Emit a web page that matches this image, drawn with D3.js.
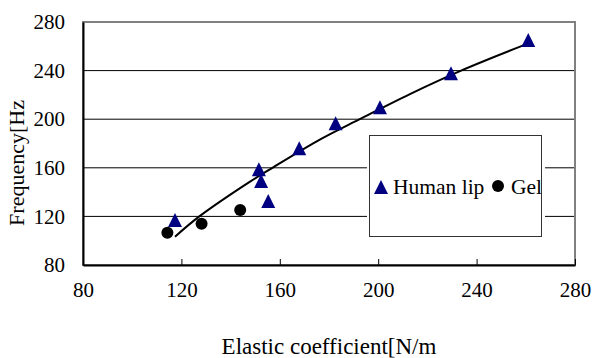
<!DOCTYPE html>
<html lang="en">
<head>
<meta charset="utf-8">
<title>Frequency vs elastic coefficient</title>
<script src="https://d3js.org/d3.v7.min.js"></script>
<style>
  body { margin: 0; background: #fff; }
  text { font-family: "Liberation Serif", "Times New Roman", serif; fill: #000; }
</style>
</head>
<body>
<script>
// data
var lipX = [117.4, 151.5, 152.4, 155.3, 167.9, 182.7, 200.7, 229.6, 261];
var lipY = [117, 158.8, 149.1, 132.7, 176, 196.6, 209.8, 237.8, 265.2];
var gelX = [114.3, 128.2, 143.9];
var gelY = [106.6, 114, 125.3];
// fitted trend line
var trendX = [117.4, 127.3, 147.9, 157, 177, 192.5, 212.9, 233.7, 260.5];
var trendY = [103.3, 120, 148.6, 160, 184, 200, 220.7, 240, 262];
var xTicks = [80, 120, 160, 200, 240, 280];
var yTicks = [80, 120, 160, 200, 240, 280];
var legendNames = ["Human lip", "Gel"];

var W = 595, H = 358;
var pLeft = 83, pRight = 575, pTop = 22, pBottom = 265;

var x = d3.scaleLinear().domain([80, 280]).range([pLeft, pRight]);
var y = d3.scaleLinear().domain([80, 280]).range([pBottom, pTop]);

var svg = d3.select("body").append("svg")
  .attr("width", W).attr("height", H);

// gridlines
svg.append("g").selectAll("line").data(yTicks.slice(1)).join("line")
  .attr("x1", pLeft).attr("x2", pRight)
  .attr("y1", d => y(d)).attr("y2", d => y(d))
  .attr("stroke", "#000").attr("stroke-width", 1);

// plot border
svg.append("rect")
  .attr("x", pLeft).attr("y", pTop)
  .attr("width", pRight - pLeft).attr("height", pBottom - pTop)
  .attr("fill", "none").attr("stroke", "#808080").attr("stroke-width", 2);

// axes
var xAxis = svg.append("g").attr("transform", "translate(0," + pBottom + ")")
  .call(d3.axisBottom(x).tickValues(xTicks).tickSizeInner(-6).tickSizeOuter(0).tickPadding(17));
var yAxis = svg.append("g").attr("transform", "translate(" + pLeft + ",0)")
  .call(d3.axisLeft(y).tickValues(yTicks).tickSizeInner(0).tickSizeOuter(0).tickPadding(18));
[xAxis, yAxis].forEach(function(g) {
  g.select(".domain").attr("stroke", "#000").attr("stroke-width", 2);
  g.selectAll(".tick line").attr("stroke", "#000");
  g.selectAll("text").style("font-family", '"Liberation Serif", serif')
    .style("font-size", "21px").attr("fill", "#000");
});

// trend line
var line = d3.line().x(d => x(d[0])).y(d => y(d[1])).curve(d3.curveCatmullRom.alpha(0.5));
svg.append("path")
  .datum(trendX.map((v, i) => [v, trendY[i]]))
  .attr("d", line)
  .attr("fill", "none").attr("stroke", "#000").attr("stroke-width", 2);

function tri(cx, cy, s) {
  return "M" + cx + "," + (cy - s) + "L" + (cx + s) + "," + (cy + s) + "L" + (cx - s) + "," + (cy + s) + "Z";
}

// points
svg.append("g").selectAll("path").data(lipX).join("path")
  .attr("d", (d, i) => tri(x(d), y(lipY[i]), 7))
  .attr("fill", "#000080");
svg.append("g").selectAll("circle").data(gelX).join("circle")
  .attr("cx", d => x(d)).attr("cy", (d, i) => y(gelY[i]))
  .attr("r", 6).attr("fill", "#000");

// legend
var lg = svg.append("g");
lg.append("rect").attr("x", 367).attr("y", 134).attr("width", 178).attr("height", 104).attr("fill", "#fff");
lg.append("rect").attr("x", 369.5).attr("y", 135.5).attr("width", 172).attr("height", 101)
  .attr("fill", "#fff").attr("stroke", "#333").attr("stroke-width", 1);
lg.append("path").attr("d", tri(381, 187, 7)).attr("fill", "#000080");
lg.append("text").attr("x", 393).attr("y", 194).style("font-size", "21.5px").text(legendNames[0]);
lg.append("circle").attr("cx", 498).attr("cy", 186).attr("r", 6).attr("fill", "#000");
lg.append("text").attr("x", 511).attr("y", 194).style("font-size", "21.5px").text(legendNames[1]);

// axis titles
svg.append("text").attr("x", 329).attr("y", 354).attr("text-anchor", "middle")
  .style("font-size", "23px").text("Elastic coefficient[N/m");
svg.append("text").attr("transform", "translate(24,163) rotate(-90)").attr("text-anchor", "middle")
  .style("font-size", "22px").text("Frequency[Hz");
</script>
</body>
</html>
